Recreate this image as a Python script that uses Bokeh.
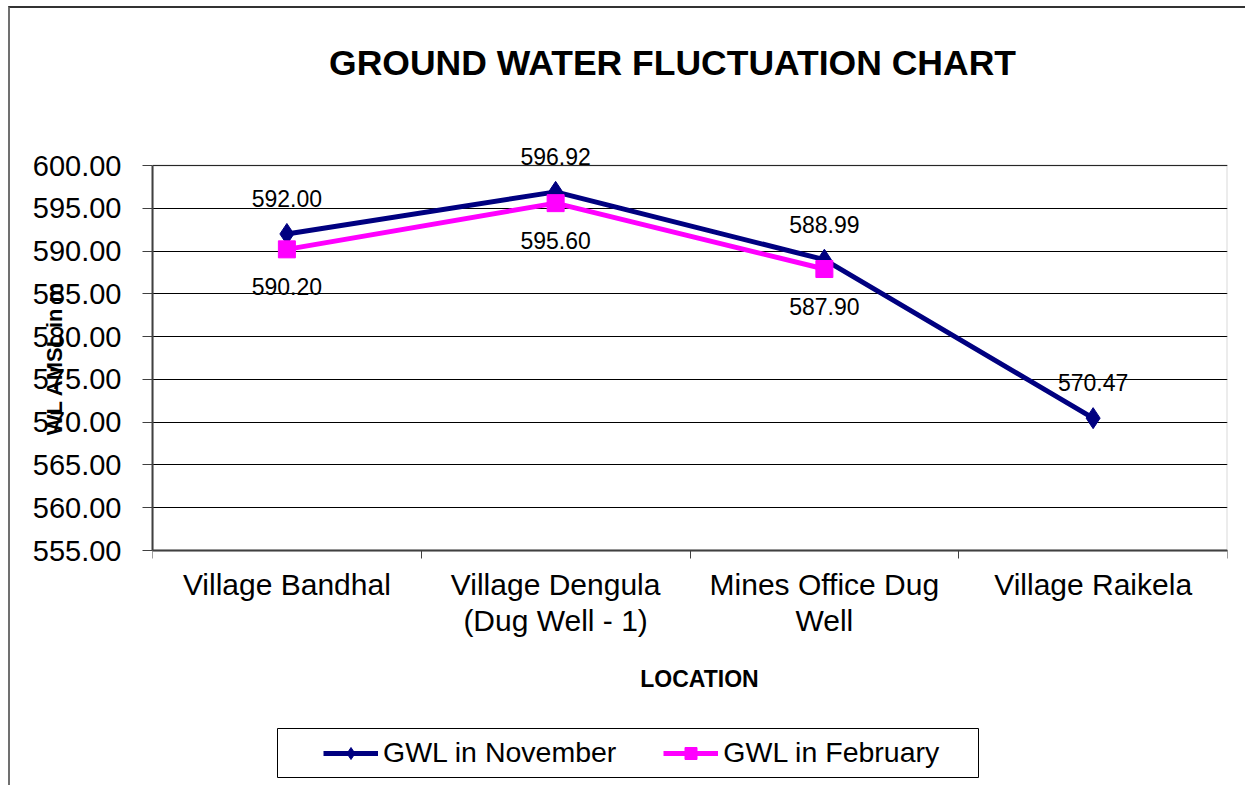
from math import pi
from bokeh.plotting import figure
from bokeh.models import (FactorRange, Range1d, LinearAxis, CategoricalAxis, FixedTicker,
                          NumeralTickFormatter, Label, LabelSet, ColumnDataSource, Legend,
                          LegendItem, BoxAnnotation)
from bokeh.core.properties import value
from bokeh.embed import file_html
from bokeh.resources import INLINE

# ---- data ----
locations = ["Village Bandhal", "Village Dengula\n(Dug Well - 1)", "Mines Office Dug\nWell", "Village Raikela"]
gwl_november = [592.00, 596.92, 588.99, 570.47]
feb_locations = locations[:3]
gwl_february = [590.20, 595.60, 587.90]
y_ticks = [555, 560, 565, 570, 575, 580, 585, 590, 595, 600]
y_min, y_max = 555, 600

title_text = "GROUND WATER FLUCTUATION CHART"
x_title = "LOCATION"
y_title = "WL AMSL in m"

FONT = "Liberation Sans"

# ---- layout (pixels) ----
W, H = 1237, 779
FRAME_LEFT, FRAME_RIGHT_PAD = 142, 20
AREA_TOP, AREA_BOTTOM = 157, 542          # canvas px where y_max / y_min sit
px_per_unit = (AREA_BOTTOM - AREA_TOP) / (y_max - y_min)
y_start = y_min - (H - AREA_BOTTOM) / px_per_unit
y_end = y_max + AREA_TOP / px_per_unit

def sy(canvas_y):  # frame-relative screen y (bottom-up)
    return H - canvas_y

def sx(canvas_x):
    return canvas_x - FRAME_LEFT

p = figure(x_range=FactorRange(factors=locations), y_range=Range1d(y_start, y_end),
           width=W, height=H, output_backend="svg", toolbar_location=None,
           x_axis_location=None, y_axis_location="left",
           min_border_left=FRAME_LEFT, min_border_right=FRAME_RIGHT_PAD,
           min_border_top=0, min_border_bottom=0)
p.styles = {"margin-left": "8px", "margin-top": "6px",
            "border-top": "2px solid #333333", "border-left": "2px solid #707070"}
p.background_fill_color = "white"
p.border_fill_color = "white"
p.outline_line_color = None

# y axis
ya = p.yaxis[0]
ya.ticker = FixedTicker(ticks=y_ticks)
ya.bounds = (y_min, y_max)
ya.formatter = NumeralTickFormatter(format="0.00")
ya.major_label_text_font = FONT
ya.major_label_text_font_size = "29px"
ya.major_label_text_color = "black"
ya.major_tick_out = 10
ya.major_tick_in = 0
ya.minor_tick_line_color = None
ya.major_label_standoff = 21
ya.axis_line_color = "#404040"
ya.axis_line_width = 2
ya.major_tick_line_color = "#404040"
# the label sits centred on the (tall) frame; leading no-break spaces lift it to the plot area
ya.axis_label = "\u00a0" * 13 + y_title
ya.axis_label_text_font = FONT
ya.axis_label_text_font_style = "bold"
ya.axis_label_text_font_size = "22px"
ya.axis_label_text_color = "black"
ya.axis_label_standoff = -37

p.ygrid.ticker = FixedTicker(ticks=y_ticks)
p.ygrid.grid_line_color = "black"
p.ygrid.grid_line_width = 1
p.xgrid.visible = False

# plot-area border (grey)
p.add_layout(BoxAnnotation(bottom=y_min, top=y_max, fill_alpha=0, line_color="#808080",
                           line_width=2, level="underlay"))

# x axes fixed at y_min: tick marks at category boundaries, labels at centres
tick_axis = LinearAxis(ticker=FixedTicker(ticks=list(range(len(locations) + 1))), fixed_location=y_min,
                       major_tick_out=8, major_tick_in=0, major_label_text_font_size="0px",
                       major_label_standoff=0, minor_tick_line_color=None,
                       axis_line_color="#404040", axis_line_width=2, major_tick_line_color="#404040")
p.add_layout(tick_axis, "below")
cat_axis = CategoricalAxis(fixed_location=y_min, major_tick_line_color=None, axis_line_color=None,
                           major_tick_out=0, major_label_text_font=FONT, major_label_text_font_size="30px",
                           major_label_text_color="black", major_label_standoff=17,
                           major_label_text_line_height=1.1)
p.add_layout(cat_axis, "below")

# series
src_n = ColumnDataSource(dict(x=locations, y=gwl_november, t=[f"{v:.2f}" for v in gwl_november]))
src_f = ColumnDataSource(dict(x=feb_locations, y=gwl_february, t=[f"{v:.2f}" for v in gwl_february]))

ln = p.line("x", "y", source=src_n, line_color="#000080", line_width=5)
mn = p.scatter("x", "y", source=src_n, marker="diamond", size=21, fill_color="#000080", line_color="#000080")
lf = p.line("x", "y", source=src_f, line_color="#FF00FF", line_width=5)
mf = p.scatter("x", "y", source=src_f, marker="square", size=17, fill_color="#FF00FF", line_color="#FF00FF")

p.add_layout(LabelSet(x="x", y="y", text="t", source=src_n, y_offset=27, text_align="center",
                      text_baseline="bottom", text_font=value(FONT), text_font_size="23px",
                      text_color="black"))
p.add_layout(LabelSet(x="x", y="y", text="t", source=src_f, y_offset=-29, text_align="center",
                      text_baseline="top", text_font=value(FONT), text_font_size="23px",
                      text_color="black"))

# titles
p.add_layout(Label(x=sx(662), y=sy(54), x_units="screen", y_units="screen", text=title_text,
                   text_align="center", text_baseline="middle", text_font=FONT,
                   text_font_style="bold", text_font_size="35.5px", text_color="black"))
p.add_layout(Label(x=sx(689), y=sy(670), x_units="screen", y_units="screen", text=x_title,
                   text_align="center", text_baseline="middle", text_font=FONT,
                   text_font_style="bold", text_font_size="23px", text_color="black"))

# legend box + legend
p.add_layout(BoxAnnotation(left=sx(267), right=sx(968), top=sy(720), bottom=sy(769),
                           left_units="screen", right_units="screen", top_units="screen",
                           bottom_units="screen", fill_color="white", fill_alpha=1,
                           line_color="black", line_width=1, line_alpha=1, level="underlay"))
legend = Legend(items=[LegendItem(label="GWL in November", renderers=[ln, mn]),
                       LegendItem(label="GWL in February", renderers=[lf, mf])],
                orientation="horizontal", location=(sx(313), sy(761)), padding=0, margin=0,
                spacing=47, glyph_width=55, glyph_height=30, label_standoff=5,
                label_text_font=FONT, label_text_font_size="28.5px", label_text_color="black",
                border_line_color=None, background_fill_alpha=0)
p.add_layout(legend, "center")

open("out.html", "w").write(file_html(p, INLINE))
